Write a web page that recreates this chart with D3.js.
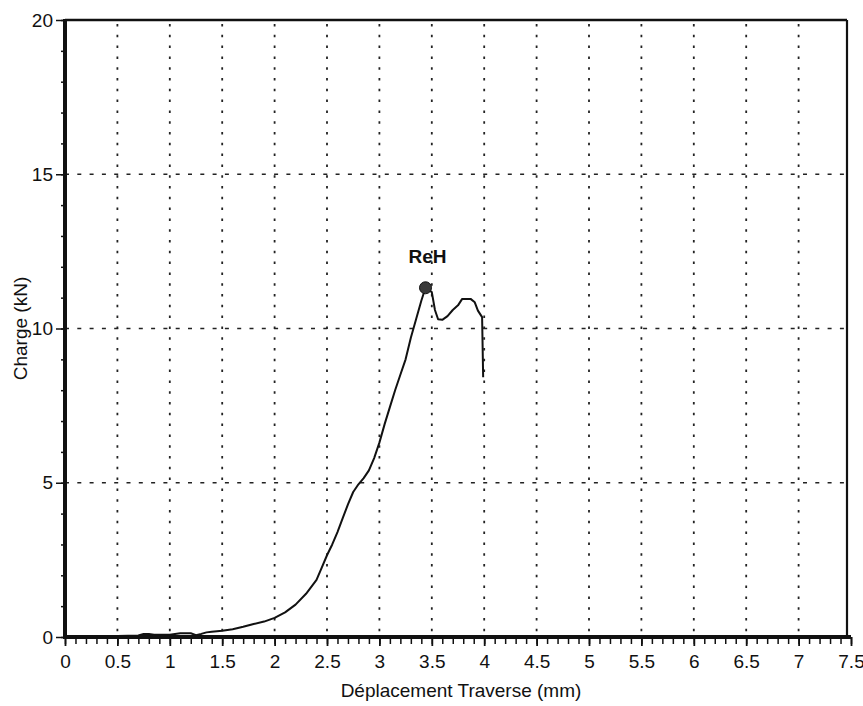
<!DOCTYPE html>
<html>
<head>
<meta charset="utf-8">
<script src="https://cdn.jsdelivr.net/npm/d3@7"></script>
<style>
  html, body { margin: 0; padding: 0; background: #fff; }
  svg { display: block; }
  text { font-family: "Liberation Sans", Arial, sans-serif; fill: #111; }
</style>
</head>
<body>
<svg id="chart" width="863" height="706"></svg>
<script>
// Tensile test record: crosshead displacement (mm) vs load (kN)
const displacement = [0, 0.1, 0.2, 0.3, 0.4, 0.5, 0.6, 0.7, 0.75, 0.8, 0.85, 0.9, 1.0, 1.05, 1.1, 1.2, 1.25, 1.3, 1.35, 1.4,
  1.5, 1.6, 1.7, 1.8, 1.9, 2.0, 2.1, 2.2, 2.3, 2.4, 2.45, 2.5, 2.55, 2.6, 2.65, 2.7, 2.75, 2.8, 2.85, 2.9,
  2.95, 3.0, 3.05, 3.1, 3.15, 3.2, 3.25, 3.3, 3.35, 3.4, 3.44, 3.5, 3.53, 3.56, 3.6, 3.65, 3.7, 3.75, 3.79,
  3.87, 3.91, 3.94, 3.98, 3.99];
const load = [0.02, 0.02, 0.03, 0.02, 0.03, 0.03, 0.04, 0.05, 0.1, 0.1, 0.07, 0.07, 0.07, 0.1, 0.12, 0.12, 0.06, 0.1, 0.15, 0.17,
  0.2, 0.25, 0.33, 0.42, 0.5, 0.62, 0.8, 1.05, 1.4, 1.85, 2.25, 2.65, 3.0, 3.4, 3.85, 4.3, 4.7, 4.95, 5.15, 5.4,
  5.8, 6.3, 6.9, 7.45, 8.0, 8.5, 9.0, 9.7, 10.3, 10.9, 11.32, 11.18, 10.6, 10.3, 10.28, 10.4, 10.6, 10.75, 10.96,
  10.96, 10.85, 10.58, 10.37, 8.42];

// Upper yield point marker
const yieldPoint = { label: "ReH", x: 3.44, y: 11.32 };

const xTickValues = [0, 0.5, 1, 1.5, 2, 2.5, 3, 3.5, 4, 4.5, 5, 5.5, 6, 6.5, 7, 7.5];
const xTickLabels = ["0", "0.5", "1", "1.5", "2", "2.5", "3", "3.5", "4", "4.5", "5", "5.5", "6", "6.5", "7", "7.5"];
const yTickValues = [0, 5, 10, 15, 20];
const yTickLabels = ["0", "5", "10", "15", "20"];
const xGridValues = [0.5, 1, 1.5, 2, 2.5, 3, 3.5, 4, 4.5, 5, 5.5, 6, 6.5, 7];
const yGridValues = [5, 10, 15];

const xTitle = "Déplacement Traverse (mm)";
const yTitle = "Charge (kN)";

const svg = d3.select("#chart");
const x = d3.scaleLinear().domain([0, 7.5]).range([65, 851]);
const y = d3.scaleLinear().domain([0, 20]).range([637, 20]);

const g = svg.append("g");

// grid: dotted verticals, dashed horizontals
g.append("g").selectAll("line").data(xGridValues).join("line")
  .attr("x1", d => x(d)).attr("x2", d => x(d))
  .attr("y1", y(20) + 4).attr("y2", y(0))
  .attr("stroke", "#222").attr("stroke-width", 1.8)
  .attr("stroke-dasharray", "2.5,8.3");

g.append("g").selectAll("line").data(yGridValues).join("line")
  .attr("x1", x(0)).attr("x2", x(7.5))
  .attr("y1", d => y(d)).attr("y2", d => y(d))
  .attr("stroke", "#222").attr("stroke-width", 1.5)
  .attr("stroke-dasharray", "4,8.3");

// top and right frame
g.append("line").attr("x1", x(0)).attr("x2", x(7.5) - 4).attr("y1", y(20)).attr("y2", y(20))
  .attr("stroke", "#111").attr("stroke-width", 2.4);
g.append("line").attr("x1", x(7.5) - 4).attr("x2", x(7.5) - 4).attr("y1", y(20)).attr("y2", y(0))
  .attr("stroke", "#111").attr("stroke-width", 2.2);

// x axis: minor ticks every 0.1, major with labels
const xMinor = d3.range(0, 76).map(i => i / 10);
const xMinorAxis = d3.axisBottom(x).tickValues(xMinor).tickSize(7).tickFormat("");
const xMinorG = g.append("g").attr("transform", `translate(0,${y(0)})`).call(xMinorAxis);
xMinorG.select(".domain").remove();
xMinorG.selectAll(".tick line").attr("stroke", "#111").attr("stroke-width", 1.5);

const xAxis = d3.axisBottom(x).tickValues(xTickValues).tickSize(9)
  .tickFormat((d, i) => xTickLabels[i]).tickPadding(9);
const xAxisG = g.append("g").attr("transform", `translate(0,${y(0)})`).call(xAxis);
xAxisG.select(".domain").attr("stroke", "#111").attr("stroke-width", 4)
  .attr("d", `M${x(0) - 2},0H${x(7.5)}`);
xAxisG.selectAll(".tick line").attr("stroke", "#111").attr("stroke-width", 1.8);
xAxisG.selectAll(".tick text").style("font-size", "19px").attr("fill", "#111");

// y axis: minor ticks every 1 kN
const yMinor = d3.range(0, 21);
const yMinorAxis = d3.axisLeft(y).tickValues(yMinor).tickSize(4).tickFormat("");
const yMinorG = g.append("g").attr("transform", `translate(${x(0)},0)`).call(yMinorAxis);
yMinorG.select(".domain").remove();
yMinorG.selectAll(".tick line").attr("stroke", "#111").attr("stroke-width", 1.5);

const yAxis = d3.axisLeft(y).tickValues(yTickValues).tickSize(9)
  .tickFormat((d, i) => yTickLabels[i]).tickPadding(3);
const yAxisG = g.append("g").attr("transform", `translate(${x(0)},0)`).call(yAxis);
yAxisG.select(".domain").attr("stroke", "#111").attr("stroke-width", 4)
  .attr("d", `M0,${y(0) + 2}V${y(20) - 1}`);
yAxisG.selectAll(".tick line").attr("stroke", "#111").attr("stroke-width", 1.5);
yAxisG.selectAll(".tick text").style("font-size", "19px").attr("fill", "#111");

// load curve
const pts = displacement.map((d, i) => [d, load[i]]);
g.append("path").datum(pts)
  .attr("fill", "none").attr("stroke", "#111").attr("stroke-width", 2)
  .attr("stroke-linejoin", "round")
  .attr("d", d3.line().x(d => x(d[0])).y(d => y(d[1])));

// yield marker and label
g.append("circle").attr("cx", x(yieldPoint.x)).attr("cy", y(yieldPoint.y)).attr("r", 6)
  .attr("fill", "#3a3a3a").attr("stroke", "#111").attr("stroke-width", 1);
g.append("text").attr("x", x(yieldPoint.x) + 2).attr("y", y(yieldPoint.y) - 25)
  .attr("text-anchor", "middle").style("font-size", "19px").style("font-weight", "bold")
  .text(yieldPoint.label);

// axis titles
svg.append("text").attr("x", 461).attr("y", 697).attr("text-anchor", "middle")
  .style("font-size", "19px").attr("fill", "#222").text(xTitle);
svg.append("text").attr("transform", `translate(27,${y(10)}) rotate(-90)`)
  .attr("text-anchor", "middle").style("font-size", "19px").attr("fill", "#222").text(yTitle);
</script>
</body>
</html>
